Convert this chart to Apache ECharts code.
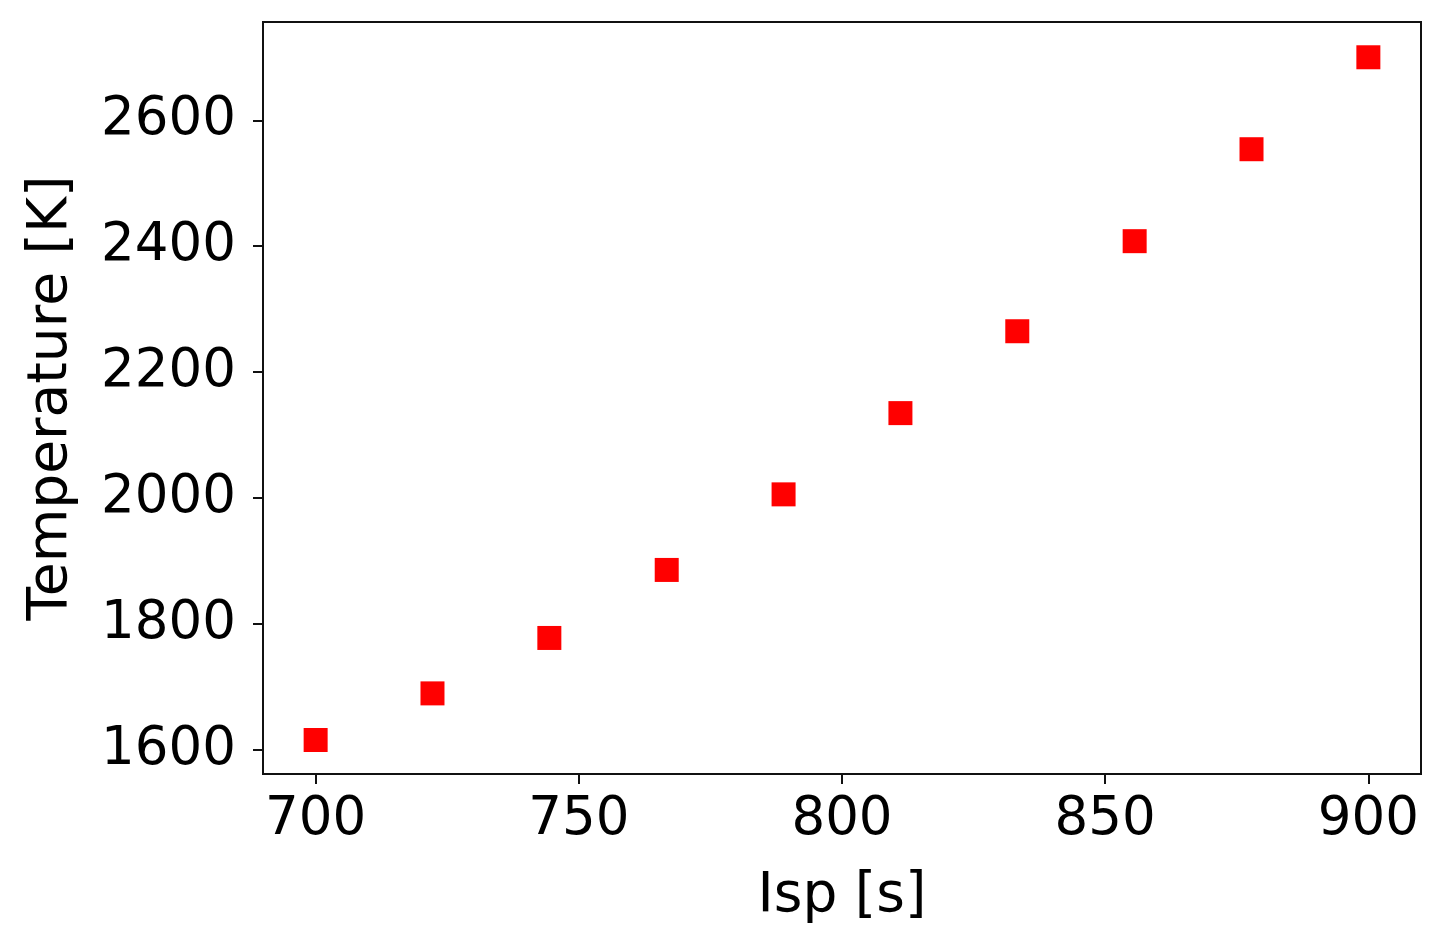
<!DOCTYPE html>
<html>
<head>
<meta charset="utf-8">
<script src="https://cdn.jsdelivr.net/npm/echarts@6/dist/echarts.min.js"></script>
<style>
html,body{margin:0;padding:0;background:#fff;}
#chart{width:1444px;height:940px;}
</style>
</head>
<body>
<div id="chart"></div>
<script>
const ispValues = [700, 722.2, 744.4, 766.7, 788.9, 811.1, 833.3, 855.6, 877.8, 900];
const temperatureValues = [1616, 1690, 1778, 1886, 2006, 2135, 2265, 2408, 2554, 2700];
const xTicks = [700, 750, 800, 850, 900];
const yTicks = [1600, 1800, 2000, 2200, 2400, 2600];
const xLabel = 'Isp [s]';
const yLabel = 'Temperature [K]';

const points = ispValues.map((x, i) => [x, temperatureValues[i]]);
const font = 'DejaVu Sans';

const chart = echarts.init(document.getElementById('chart'), null, {renderer: 'canvas'});
chart.setOption({
  animation: false,
  backgroundColor: '#fff',
  grid: {
    left: 263, right: 23, top: 22, bottom: 166,
    show: true, borderColor: '#111', borderWidth: 2, backgroundColor: 'transparent'
  },
  xAxis: {
    type: 'value', min: 690, max: 910,
    name: xLabel, nameLocation: 'middle', nameGap: 95,
    nameTextStyle: {fontFamily: font, fontSize: 55, color: '#000'},
    axisLine: {show: true, lineStyle: {color: '#111', width: 2}},
    axisTick: {show: true, length: 10, lineStyle: {color: '#111', width: 2}, customValues: xTicks},
    axisLabel: {fontFamily: font, fontSize: 53, color: '#000', margin: 20, customValues: xTicks,
      formatter: v => String(v)},
    splitLine: {show: false}
  },
  yAxis: {
    type: 'value', min: 1562, max: 2756,
    name: yLabel, nameLocation: 'middle', nameGap: 184,
    nameTextStyle: {fontFamily: font, fontSize: 55, color: '#000'},
    axisLine: {show: true, lineStyle: {color: '#111', width: 2}},
    axisTick: {show: true, length: 10, lineStyle: {color: '#111', width: 2}, customValues: yTicks},
    axisLabel: {fontFamily: font, fontSize: 53, color: '#000', margin: 27, customValues: yTicks,
      formatter: v => String(v)},
    splitLine: {show: false}
  },
  series: [{
    type: 'scatter',
    data: points,
    symbol: 'rect',
    symbolSize: 24,
    itemStyle: {color: '#ff0000', opacity: 1}
  }]
});
</script>
</body>
</html>
